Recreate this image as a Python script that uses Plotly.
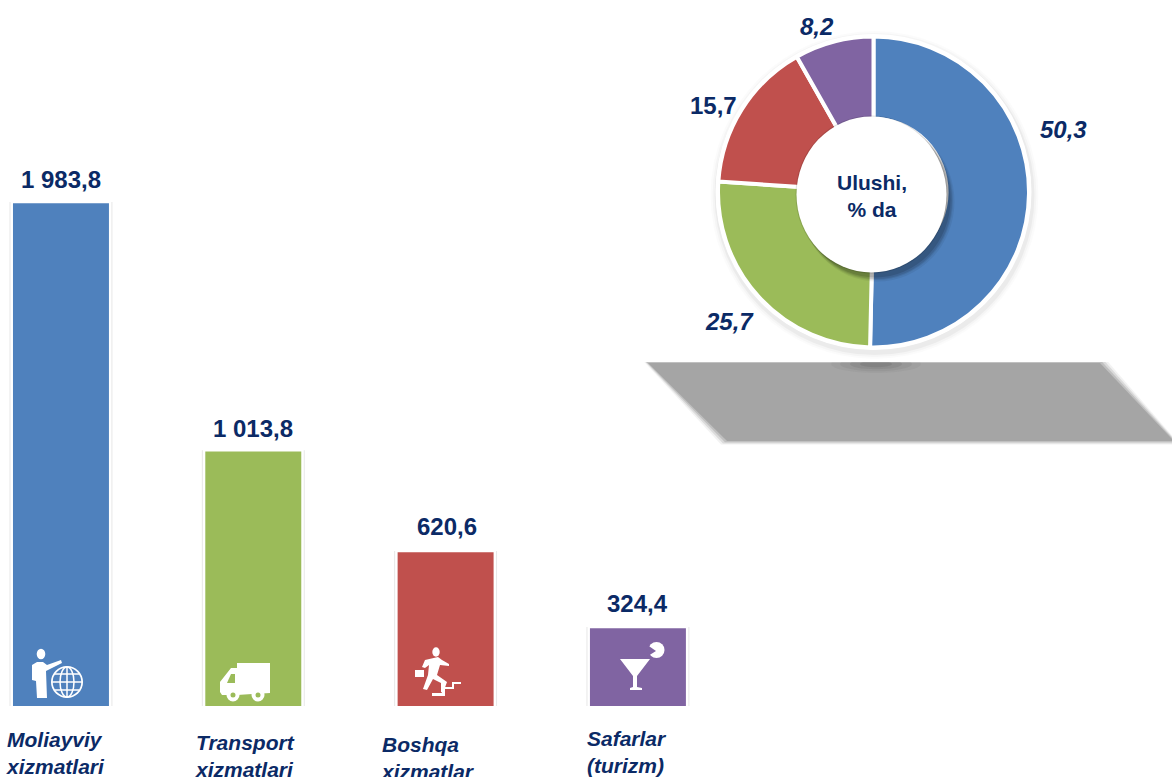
import plotly.graph_objects as go

W, H = 1172, 777
bar_categories = ["Moliayviy xizmatlari", "Transport xizmatlari", "Boshqa xizmatlar", "Safarlar (turizm)"]
bar_values = [1983.8, 1013.8, 620.6, 324.4]
bar_labels = ["1 983,8", "1 013,8", "620,6", "324,4"]
bar_colors = ["#4F81BD", "#9BBB59", "#C0504D", "#8064A2"]
category_lines = ["Moliayviy<br>xizmatlari", "Transport<br>xizmatlari", "Boshqa<br>xizmatlar", "Safarlar<br>(turizm)"]
pie_values = [50.3, 25.7, 15.7, 8.2]
pie_labels = ["50,3", "25,7", "15,7", "8,2"]
NAVY = "#0B2A66"
FONT = "Liberation Sans"

def px(x): return x / W
def py(y): return 1 - y / H

shapes = []
def circle(cx, cy, r, fill, layer="above", ry=None, line=0, color="#FFFFFF"):
    ry = ry or r
    shapes.append(dict(type="circle", xref="paper", yref="paper", layer=layer,
                       x0=px(cx-r), x1=px(cx+r), y0=py(cy+ry), y1=py(cy-ry),
                       fillcolor=fill, line=dict(width=line, color=color)))
def poly(points, fill, layer="above"):
    d = "M" + " L".join(f"{px(x):.5f},{py(y):.5f}" for x, y in points) + " Z"
    shapes.append(dict(type="path", xref="paper", yref="paper", layer=layer, path=d,
                       fillcolor=fill, line=dict(width=0)))
def seg(p, q, color, w):
    shapes.append(dict(type="line", xref="paper", yref="paper", layer="above",
                       x0=px(p[0]), y0=py(p[1]), x1=px(q[0]), y1=py(q[1]),
                       line=dict(color=color, width=w)))

# floor shadow
for grow, fill in [(6, "rgba(166,166,166,0.15)"), (4, "rgba(166,166,166,0.3)"), (2, "rgba(166,166,166,0.5)"), (0, "#A5A5A5")]:
    poly([(648-grow, 363-grow*0.6), (1100+grow, 363-grow*0.6), (1174+grow, 441+grow*0.6), (727-grow, 441+grow*0.6)], fill, layer="below")
for rx, a in [(45, .05), (36, .07), (26, .1), (16, .12)]:
    circle(876, 364, rx, f"rgba(60,60,60,{a})", layer="below", ry=rx*0.2)
poly([(600, 300), (600, 362), (1110, 362), (1110, 300)], "white", layer="below")

# halo behind the doughnut
CX, CY, R = 873.5, 192, 155.5
for r, fill in [(164, "rgba(0,0,0,0.015)"), (162, "rgba(0,0,0,0.025)"), (160, "rgba(0,0,0,0.04)")]:
    circle(CX+1, CY+3, r, fill, layer="below")
circle(CX, CY, 158, "#FFFFFF", layer="below")

# hole and its shadow, on top of the slices
HX, HY, HRX, HRY = 871.5, 194.5, 75, 78
for d, g, a in [(7, 2, .06), (6, 1.5, .08), (6, 0.5, .1), (5, 0, .12)]:
    circle(HX+d-1, HY+d, HRX+g, f"rgba(0,0,0,{a})", ry=HRY+g)
circle(HX, HY, HRX+1, "rgba(0,0,0,0.12)", ry=HRY+1)
circle(HX, HY, HRX, "#FFFFFF", ry=HRY)

# person + globe
W_ = "#FFFFFF"
BLUE = bar_colors[0]
circle(41, 654, 4.3, W_, ry=5.3)
poly([(32, 665), (37, 662), (43, 662), (47, 665), (61, 660), (62, 663), (50, 669), (46, 671), (47, 698), (37, 698), (36, 681), (32, 680)], W_)
circle(67, 682, 16, W_)
circle(67, 682, 14.3, BLUE)
for dy, half in [(0, 15), (-8, 12.5), (8, 12.5)]:
    seg((67-half, 682+dy), (67+half, 682+dy), W_, 1.5)
seg((67, 667), (67, 697), W_, 1.5)
circle(67, 682, 7, "rgba(0,0,0,0)", ry=15, line=1.5)

# truck
poly([(237, 663), (270, 663), (270, 693), (237, 695), (222, 695), (220, 692), (220, 682), (231, 668), (237, 668)], W_)
poly([(227, 683), (235, 683), (235, 674), (231, 674)], "#9BBB59")
for cx in (233, 258):
    circle(cx, 695, 6.5, W_)
    circle(cx, 695, 2.5, "#9BBB59")

# runner on stairs
circle(436, 652, 3.7, W_, ry=4.7)
poly([(425, 660), (438, 657), (442, 660), (449, 664), (449, 666), (440, 665), (437, 675), (447, 682), (443, 693), (441, 692), (441, 683), (433, 679), (427, 690), (423, 689), (428, 675), (429, 665), (425, 668), (422, 667)], W_)
poly([(415, 670), (424, 670), (424, 677), (415, 677)], W_)
poly([(432, 693), (442, 693), (442, 687), (452, 687), (452, 682), (461, 682), (461, 684), (454, 684), (454, 689), (445, 689), (445, 696), (432, 696)], W_)

# cocktail
poly([(620, 659), (650, 659), (637, 676), (637, 687), (642, 688), (642, 690), (630, 690), (630, 688), (633, 687), (633, 676)], W_)
circle(656.5, 650, 8, W_)
poly([(646, 644), (656, 651), (648, 656)], bar_colors[3])

annotations = []
def note(text, x, y, size, italic=True, anchor="center", align="center"):
    t = f"<b><i>{text}</i></b>" if italic else f"<b>{text}</b>"
    annotations.append(dict(text=t, xref="paper", yref="paper", x=px(x), y=py(y),
                            xanchor=anchor, yanchor="middle", align=align, showarrow=False,
                            font=dict(family=FONT, size=size, color=NAVY)))

for text, (x, y) in zip(category_lines, [(4, 753), (193, 756), (379, 758), (585, 752)]):
    note(text, x, y, 21, anchor="left", align="left")
for text, (x, y), it in zip(pie_labels, [(1063, 129), (729, 321), (713, 106), (817, 26)], [True, True, False, True]):
    note(text, x, y, 24, italic=it)
note("Ulushi,<br>% da", 872, 196, 21, italic=False)
for cat, val, lab, xs, ys in zip(bar_categories, bar_values, bar_labels, [0, 0, 1, 0], [22, 22, 25, 23]):
    annotations.append(dict(text=f"<b>{lab}</b>", xref="x", yref="y", x=cat, y=val, xshift=xs, yshift=ys,
                            xanchor="center", yanchor="middle", showarrow=False,
                            font=dict(family=FONT, size=24, color=NAVY)))

fig = go.Figure()
fig.add_trace(go.Bar(x=bar_categories, y=bar_values, width=0.535,
                     marker=dict(color="#E6E6E6", line=dict(width=0)), hoverinfo="skip"))
fig.add_trace(go.Bar(x=bar_categories, y=bar_values, width=0.512,
                     marker=dict(color=bar_colors, line=dict(color="#FFFFFF", width=2.5))))
fig.add_trace(go.Pie(values=pie_values, labels=pie_labels, sort=False, direction="clockwise", rotation=0,
                     hole=0.47, textinfo="none", showlegend=False,
                     marker=dict(colors=bar_colors, line=dict(color="#FFFFFF", width=4)),
                     domain=dict(x=[px(CX-R), px(CX+R)], y=[py(CY+R), py(CY-R)])))

fig.update_layout(width=W, height=H, margin=dict(l=0, r=0, t=0, b=0, pad=0),
                  paper_bgcolor="white", plot_bgcolor="rgba(0,0,0,0)", barmode="overlay",
                  showlegend=False, shapes=shapes, annotations=annotations,
                  xaxis=dict(type="category", categoryorder="array", categoryarray=bar_categories,
                             range=[-0.317, 5.777], showticklabels=False, showgrid=False, zeroline=False,
                             ticks="", showline=False),
                  yaxis=dict(range=[15.6, 2772], domain=[71/777, 1], showticklabels=False, showgrid=False,
                             zeroline=False, ticks="", showline=False))
fig.write_html("out.html", config=dict(displayModeBar=False),
               post_script="document.body.style.margin='0';document.body.style.overflow='hidden';")
